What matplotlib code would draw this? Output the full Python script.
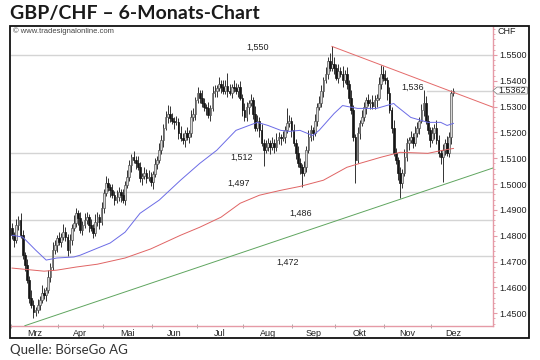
import numpy as np
import pandas as pd
import matplotlib
matplotlib.use("Agg")
import matplotlib.pyplot as plt
import matplotlib.transforms as mtransforms
from matplotlib.patches import Rectangle, Polygon

# GBP/CHF daily bars (open = previous close)
first_open = 1.4830
closes = [
    1.4802, 1.4783, 1.4841, 1.4860, 1.4802, 1.4725, 1.4687, 1.4629, 1.4560, 1.4532,
    1.4505, 1.4513, 1.4532, 1.4552, 1.4579, 1.4571, 1.4590, 1.4641, 1.4679, 1.4745,
    1.4764, 1.4791, 1.4776, 1.4795, 1.4814, 1.4795, 1.4745, 1.4783, 1.4830, 1.4849,
    1.4887, 1.4868, 1.4822, 1.4841, 1.4860, 1.4872, 1.4841, 1.4830, 1.4810, 1.4853,
    1.4872, 1.4853, 1.4907, 1.4965, 1.5003, 1.4988, 1.4976, 1.4957, 1.4938, 1.4949,
    1.4969, 1.4957, 1.4938, 1.4996, 1.5026, 1.5073, 1.5104, 1.5092, 1.5080, 1.5065,
    1.5023, 1.5030, 1.5042, 1.5023, 1.5026, 1.5007, 1.5038, 1.5077, 1.5092, 1.5131,
    1.5169, 1.5219, 1.5258, 1.5273, 1.5254, 1.5246, 1.5239, 1.5239, 1.5196, 1.5177,
    1.5169, 1.5196, 1.5181, 1.5196, 1.5258, 1.5273, 1.5324, 1.5351, 1.5335, 1.5312,
    1.5297, 1.5293, 1.5266, 1.5293, 1.5351, 1.5362, 1.5370, 1.5389, 1.5374, 1.5362,
    1.5381, 1.5362, 1.5354, 1.5374, 1.5370, 1.5362, 1.5374, 1.5335, 1.5285, 1.5258,
    1.5297, 1.5312, 1.5324, 1.5273, 1.5219, 1.5246, 1.5208, 1.5158, 1.5131, 1.5142,
    1.5158, 1.5142, 1.5158, 1.5142, 1.5169, 1.5181, 1.5177, 1.5181, 1.5208, 1.5235,
    1.5246, 1.5208, 1.5158, 1.5119, 1.5080, 1.5065, 1.5042, 1.5065, 1.5131, 1.5181,
    1.5208, 1.5196, 1.5246, 1.5297, 1.5312, 1.5362, 1.5401, 1.5428, 1.5478, 1.5451,
    1.5466, 1.5451, 1.5412, 1.5439, 1.5428, 1.5401, 1.5428, 1.5389, 1.5335, 1.5285,
    1.5181, 1.5092, 1.5196, 1.5235, 1.5258, 1.5297, 1.5324, 1.5312, 1.5316, 1.5304,
    1.5324, 1.5335, 1.5389, 1.5428, 1.5412, 1.5401, 1.5351, 1.5285, 1.5219, 1.5119,
    1.5092, 1.5042, 1.5003, 1.5042, 1.5104, 1.5158, 1.5169, 1.5181, 1.5158, 1.5196,
    1.5219, 1.5246, 1.5285, 1.5312, 1.5246, 1.5208, 1.5169, 1.5196, 1.5219, 1.5169,
    1.5119, 1.5104, 1.5131, 1.5158, 1.5119, 1.5181, 1.5351, 1.5362]
highs = [
    1.4850, 1.4814, 1.4866, 1.4875, 1.4890, 1.4822, 1.4737, 1.4712, 1.4644, 1.4590,
    1.4552, 1.4525, 1.4557, 1.4567, 1.4609, 1.4599, 1.4602, 1.4666, 1.4694, 1.4775,
    1.4784, 1.4803, 1.4816, 1.4810, 1.4844, 1.4834, 1.4807, 1.4808, 1.4845, 1.4879,
    1.4907, 1.4899, 1.4893, 1.4856, 1.4890, 1.4892, 1.4884, 1.4866, 1.4845, 1.4883,
    1.4892, 1.4884, 1.4932, 1.4980, 1.5033, 1.5023, 1.5000, 1.5001, 1.4972, 1.4979,
    1.4989, 1.4981, 1.4982, 1.5011, 1.5056, 1.5093, 1.5116, 1.5129, 1.5107, 1.5110,
    1.5085, 1.5042, 1.5067, 1.5057, 1.5056, 1.5046, 1.5050, 1.5102, 1.5107, 1.5161,
    1.5189, 1.5231, 1.5283, 1.5305, 1.5303, 1.5274, 1.5258, 1.5264, 1.5254, 1.5226,
    1.5197, 1.5208, 1.5221, 1.5211, 1.5288, 1.5293, 1.5336, 1.5376, 1.5366, 1.5365,
    1.5332, 1.5309, 1.5318, 1.5308, 1.5381, 1.5382, 1.5382, 1.5414, 1.5404, 1.5404,
    1.5401, 1.5431, 1.5387, 1.5389, 1.5404, 1.5390, 1.5386, 1.5399, 1.5350, 1.5315,
    1.5317, 1.5324, 1.5349, 1.5339, 1.5303, 1.5266, 1.5258, 1.5233, 1.5173, 1.5172,
    1.5178, 1.5170, 1.5183, 1.5173, 1.5199, 1.5201, 1.5193, 1.5206, 1.5223, 1.5296,
    1.5266, 1.5258, 1.5233, 1.5173, 1.5149, 1.5100, 1.5077, 1.5090, 1.5146, 1.5211,
    1.5228, 1.5220, 1.5271, 1.5312, 1.5342, 1.5382, 1.5413, 1.5453, 1.5493, 1.5508,
    1.5533, 1.5490, 1.5466, 1.5464, 1.5454, 1.5458, 1.5440, 1.5453, 1.5404, 1.5365,
    1.5305, 1.5193, 1.5221, 1.5250, 1.5288, 1.5317, 1.5336, 1.5349, 1.5331, 1.5346,
    1.5344, 1.5347, 1.5414, 1.5460, 1.5458, 1.5442, 1.5413, 1.5376, 1.5300, 1.5249,
    1.5139, 1.5104, 1.5067, 1.5057, 1.5134, 1.5178, 1.5181, 1.5206, 1.5196, 1.5226,
    1.5239, 1.5258, 1.5310, 1.5365, 1.5342, 1.5266, 1.5220, 1.5221, 1.5234, 1.5249,
    1.5189, 1.5131, 1.5156, 1.5173, 1.5188, 1.5201, 1.5363, 1.5372]
lows = [
    1.4787, 1.4758, 1.4773, 1.4821, 1.4790, 1.4710, 1.4662, 1.4619, 1.4540, 1.4520,
    1.4483, 1.4490, 1.4503, 1.4512, 1.4540, 1.4556, 1.4546, 1.4580, 1.4621, 1.4667,
    1.4730, 1.4739, 1.4766, 1.4756, 1.4783, 1.4780, 1.4720, 1.4735, 1.4763, 1.4818,
    1.4834, 1.4843, 1.4812, 1.4802, 1.4829, 1.4845, 1.4816, 1.4820, 1.4790, 1.4798,
    1.4838, 1.4828, 1.4843, 1.4887, 1.4953, 1.4973, 1.4951, 1.4947, 1.4918, 1.4926,
    1.4934, 1.4932, 1.4928, 1.4918, 1.4984, 1.5011, 1.5048, 1.5082, 1.5060, 1.5053,
    1.5008, 1.4998, 1.5020, 1.5003, 1.5011, 1.4992, 1.4982, 1.5028, 1.5057, 1.5080,
    1.5116, 1.5144, 1.5209, 1.5238, 1.5242, 1.5231, 1.5214, 1.5229, 1.5176, 1.5165,
    1.5154, 1.5144, 1.5171, 1.5161, 1.5184, 1.5243, 1.5248, 1.5314, 1.5315, 1.5300,
    1.5282, 1.5268, 1.5256, 1.5246, 1.5281, 1.5336, 1.5337, 1.5360, 1.5354, 1.5350,
    1.5347, 1.5337, 1.5344, 1.5334, 1.5358, 1.5347, 1.5337, 1.5325, 1.5265, 1.5246,
    1.5243, 1.5272, 1.5302, 1.5253, 1.5207, 1.5204, 1.5183, 1.5148, 1.5070, 1.5119,
    1.5127, 1.5117, 1.5132, 1.5122, 1.5130, 1.5154, 1.5152, 1.5167, 1.5161, 1.5196,
    1.5220, 1.5183, 1.5148, 1.5099, 1.5068, 1.5040, 1.4987, 1.5032, 1.5045, 1.5119,
    1.5166, 1.5171, 1.5186, 1.5226, 1.5285, 1.5297, 1.5337, 1.5391, 1.5408, 1.5439,
    1.5436, 1.5426, 1.5402, 1.5392, 1.5413, 1.5376, 1.5391, 1.5369, 1.5315, 1.5273,
    1.5166, 1.5003, 1.5082, 1.5176, 1.5223, 1.5243, 1.5272, 1.5302, 1.5292, 1.5292,
    1.5289, 1.5299, 1.5325, 1.5369, 1.5400, 1.5386, 1.5326, 1.5275, 1.5199, 1.5107,
    1.5077, 1.5017, 1.4945, 1.4983, 1.5030, 1.5089, 1.5133, 1.5159, 1.5138, 1.5146,
    1.5181, 1.5194, 1.5236, 1.5265, 1.5234, 1.5193, 1.5144, 1.5159, 1.5176, 1.5157,
    1.5104, 1.5079, 1.5010, 1.5111, 1.5107, 1.5104, 1.5156, 1.5341]

# moving averages, read at a few bars (bar number, value)
blue_bar = [0, 5, 11, 16, 21, 29, 32, 40, 46, 53, 60, 69, 79, 88, 96, 105, 115, 120,
            126, 130, 135, 141, 144, 151, 155, 162, 171, 179, 180, 187, 195, 201, 204, 207]
blue_val = [1.4802, 1.4795, 1.4745, 1.4706, 1.4714, 1.4718, 1.4725, 1.4752, 1.4772,
            1.4814, 1.4887, 1.4938, 1.5015, 1.5080, 1.5131, 1.5208, 1.5239, 1.5227,
            1.5208, 1.5204, 1.5208, 1.5188, 1.5208, 1.5273, 1.5304, 1.5293, 1.5293,
            1.5312, 1.5304, 1.5258, 1.5239, 1.5239, 1.5227, 1.5235]
red_bar = [0, 15, 21, 30, 40, 53, 65, 79, 88, 98, 107, 116, 126, 135, 146, 157, 163,
           173, 182, 195, 202, 207]
red_val = [1.4675, 1.4663, 1.4667, 1.4679, 1.4690, 1.4714, 1.4749, 1.4802, 1.4833,
           1.4872, 1.4926, 1.4957, 1.4976, 1.4991, 1.5015, 1.5065, 1.5080, 1.5104,
           1.5123, 1.5119, 1.5131, 1.5138]

# support / resistance levels
levels = [1.550, 1.536, 1.512, 1.497, 1.486, 1.472]
level_text = ["1,550", "1,536", "1,512", "1,497", "1,486", "1,472"]
level_from = [0, 195, 0, 0, 0, 0]
level_text_xy = [(115, 1.5529), (188, 1.5375), (107.5, 1.5105), (106, 1.5004),
                 (135.5, 1.4887), (129, 1.4698)]

# trend lines (bar, price) -> (bar, price)
support_line = [(6, 1.4452), (225.4, 1.5062)]
resist_line = [(150, 1.5533), (225.4, 1.5298)]

last_price = 1.5362
month_names = ["Mrz", "Apr", "Mai", "Jun", "Jul", "Aug", "Sep", "Okt", "Nov", "Dez"]

PINK = "#e59aa6"
plt.rcParams["font.family"] = ["Liberation Sans", "DejaVu Sans"]

fig = plt.figure(figsize=(5.4, 3.6), dpi=100)
ax = fig.add_axes([11 / 540, 1 - 325.7 / 360, 481.7 / 540, 298.7 / 360])

n = len(closes)
x = np.arange(n)
opens = np.array([first_open] + closes[:-1])
c = np.array(closes)

# level lines
for lv, x0 in zip(levels, level_from):
    ax.plot([x0 - 0.5, 226], [lv, lv], color="#d4d4d4", lw=1.0, zorder=1)
for (tx, ty), t in zip(level_text_xy, level_text):
    ax.text(tx, ty, t, fontsize=6.5, ha="center", va="center", color="#222222", zorder=6)

# candles
ax.vlines(x, lows, highs, color="#333333", lw=0.7, zorder=3)
up = c >= opens
body_lo = np.minimum(opens, c)
body_h = np.maximum(np.abs(c - opens), 0.0003)
ax.bar(x[up], body_h[up], bottom=body_lo[up], width=0.8, color="#d8d8d8",
       edgecolor="#555555", linewidth=0.5, zorder=4)
ax.bar(x[~up], body_h[~up], bottom=body_lo[~up], width=0.8, color="#151515",
       edgecolor="#151515", linewidth=0.5, zorder=4)

# moving averages and trend lines
ax.plot(blue_bar, blue_val, color="#6b6be6", lw=0.7, zorder=5)
ax.plot(red_bar, red_val, color="#e06464", lw=0.7, zorder=5)
ax.plot(*zip(*support_line), color="#5fa55f", lw=0.7, zorder=5)
ax.plot(*zip(*resist_line), color="#e46a6a", lw=0.7, zorder=5)

ax.set_xlim(-0.5, 225.4)
ax.set_ylim(1.4452, 1.5608)

# month ticks from the trading calendar
days = pd.bdate_range("2012-03-01", "2012-12-31")
months = np.asarray(days.month)
starts = [i for i in range(len(days)) if i == 0 or months[i] != months[i - 1]]
centers = [np.mean(np.where(months == m)[0]) for m in pd.unique(months)]
ax.set_xticks(centers)
ax.set_xticklabels(month_names, fontsize=6.5, color="#222222")
ax.set_xticks([s - 0.5 for s in starts], minor=True)
ax.tick_params(axis="x", which="major", length=0, pad=2.5)
ax.tick_params(axis="x", which="minor", length=3, direction="inout", color="#999999")

ax.yaxis.tick_right()
ax.set_yticks(np.arange(1.45, 1.5501, 0.01))
ax.set_yticklabels([f"{v:.4f}" for v in np.arange(1.45, 1.5501, 0.01)],
                   fontsize=6.5, color="#222222")
ax.set_yticks(np.arange(1.446, 1.560, 0.002), minor=True)
ax.tick_params(axis="y", which="major", length=3, color=PINK, pad=1.5)
ax.tick_params(axis="y", which="minor", length=1.5, color=PINK)

for s in ["top", "left"]:
    ax.spines[s].set_visible(False)
for s in ["right", "bottom"]:
    ax.spines[s].set_color(PINK)
    ax.spines[s].set_linewidth(1.0)

# last price marker
tr = mtransforms.blended_transform_factory(ax.transAxes, ax.transData)
h = 0.00135
box = Polygon([(1.0006, last_price), (1.009, last_price + h), (1.072, last_price + h),
               (1.072, last_price - h), (1.009, last_price - h)], closed=True,
              transform=tr, facecolor="white", edgecolor="#888888", lw=0.6,
              clip_on=False, zorder=10)
ax.add_patch(box)
ax.text(1.041, last_price, f"{last_price:.4f}", transform=tr, fontsize=6.5,
        ha="center", va="center", color="#222222", zorder=11)

# texts around the plot
fig.text(497 / 540, 1 - 31 / 360, "CHF", fontsize=6.5, va="center", color="#222222")
fig.text(13 / 540, 1 - 31 / 360, "© www.tradesignalonline.com", fontsize=5.5,
         va="center", color="#444444")
fig.text(10 / 540, 1 - 13 / 360, "GBP/CHF – 6-Monats-Chart", fontsize=14,
         fontweight="bold", family="Lato", va="center", color="#1a1a1a")
fig.text(10 / 540, 1 - 350 / 360, "Quelle: BörseGo AG", fontsize=9.5, family="Lato",
         va="center", color="#333333")

fig.add_artist(Rectangle((10 / 540, 1 - 338 / 360), 519 / 540, 312 / 360,
                         transform=fig.transFigure, fill=False, lw=1.3,
                         edgecolor="#111111"))

fig.savefig("out.png", dpi=100)
